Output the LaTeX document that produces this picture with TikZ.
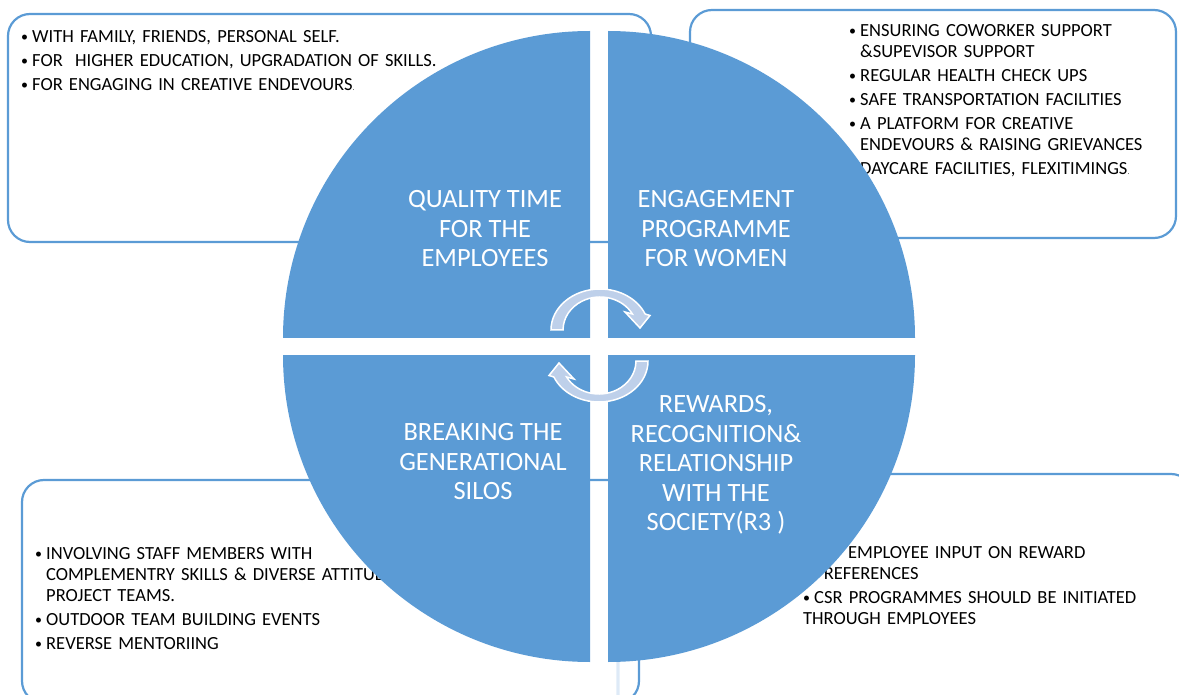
\documentclass[tikz,border=0pt]{standalone}
\usepackage{fontspec}
\setmainfont{Carlito}
\definecolor{quadblue}{RGB}{91,155,213}
\definecolor{arrowblue}{RGB}{190,208,234}
\definecolor{paleblue}{RGB}{222,234,247}
\newcommand\itm[1]{\par\hangindent=11pt\hangafter=1\noindent\makebox[11pt][l]{\raisebox{1pt}{\fontsize{14}{14}\selectfont\textbullet}}#1}

\begin{document}
\begin{tikzpicture}[x=1pt, y=-1pt,
    box/.style={draw=quadblue, line width=2.2pt, rounded corners=22pt},
    quarter/.style={fill=quadblue},
    cyclearrow/.style={fill=arrowblue, draw=white, line width=1.5pt},
    quadtext/.style={text=white, align=center, inner sep=0pt, font=\fontsize{26.4}{29.5}\selectfont},
    notes/.style={anchor=north west, inner sep=0pt, text width=#1, align=left,
        font=\fontsize{18.5}{20.8}\selectfont, execute at begin node={\setlength{\parskip}{3.4pt}}}]
    \useasboundingbox (0,0) rectangle (1179,695); % same size as the picture
    % the four boxes lie behind the circle
    \draw[box] (8,14) rectangle (651,242);
    \draw[box] (690,10) rectangle (1176,238);
    \draw[box] (22,480) rectangle (639,703);
    \draw[box] (618,474) rectangle (1193,720);
    \draw[box, draw=paleblue] (618,600) -- (618,720);
    \node[notes=430pt] (timelist) at (21,18) {\itm{WITH FAMILY, FRIENDS, PERSONAL SELF.}\itm{FOR~ HIGHER EDUCATION, UPGRADATION OF SKILLS.}\itm{FOR ENGAGING IN CREATIVE ENDEVOURS{\scriptsize .}}};
    \node[notes=320pt] (womenlist) at (849,12) {\itm{ENSURING COWORKER SUPPORT\newline \&SUPEVISOR SUPPORT}\itm{REGULAR HEALTH CHECK UPS}\itm{SAFE TRANSPORTATION FACILITIES}\itm{A PLATFORM FOR CREATIVE\newline ENDEVOURS \& RAISING GRIEVANCES}\itm{DAYCARE FACILITIES, FLEXITIMINGS{\scriptsize .}}};
    \node[notes=560pt] (siloslist) at (35,535) {\itm{INVOLVING STAFF MEMBERS WITH\newline COMPLEMENTRY SKILLS \& DIVERSE ATTITUDES\newline PROJECT TEAMS.}\itm{OUTDOOR TEAM BUILDING EVENTS}\itm{REVERSE MENTORIING}};
    \node[notes=360pt] (rewardslist) at (803,534) {\itm{\hspace{34pt}EMPLOYEE INPUT ON REWARD\newline PREFERENCES}\itm{CSR PROGRAMMES SHOULD BE INITIATED\newline THROUGH EMPLOYEES}};
    % circle cut in four
    \fill[quarter] (590,338) -- ++(-307,0) arc[start angle=180, end angle=270, radius=307] -- cycle;
    \fill[quarter] (608,338) -- ++(0,-307) arc[start angle=270, end angle=360, radius=307] -- cycle;
    \fill[quarter] (608,355) -- ++(307,0) arc[start angle=0, end angle=90, radius=307] -- cycle;
    \fill[quarter] (590,355) -- ++(0,307) arc[start angle=90, end angle=180, radius=307] -- cycle;
    \node[quadtext] (quality) at (485,229) {QUALITY TIME\\FOR THE\\EMPLOYEES};
    \node[quadtext] (women) at (716,229) {ENGAGEMENT\\PROGRAMME\\FOR WOMEN};
    \node[quadtext] (silos) at (483,462) {BREAKING THE\\GENERATIONAL\\SILOS};
    \node[quadtext] (rewards) at (716,465) {REWARDS,\\RECOGNITION\&\\RELATIONSHIP\\WITH THE\\SOCIETY(R3 )};
    \begin{scope}[shift={(600,330)}]
        \filldraw[cyclearrow] (-49,0) arc[start angle=180, end angle=337, x radius=49, y radius=41] -- (50,-14.5) -- (40,-2) -- (25,-18) -- (32.4,-16) arc[start angle=331, end angle=180, x radius=37, y radius=33] -- cycle;
    \end{scope}
    \begin{scope}[shift={(599,361)}, rotate=180]
        \filldraw[cyclearrow] (-49,0) arc[start angle=180, end angle=337, x radius=49, y radius=41] -- (50,-14.5) -- (40,-2) -- (25,-18) -- (32.4,-16) arc[start angle=331, end angle=180, x radius=37, y radius=33] -- cycle;
    \end{scope}
\end{tikzpicture}
\end{document}
